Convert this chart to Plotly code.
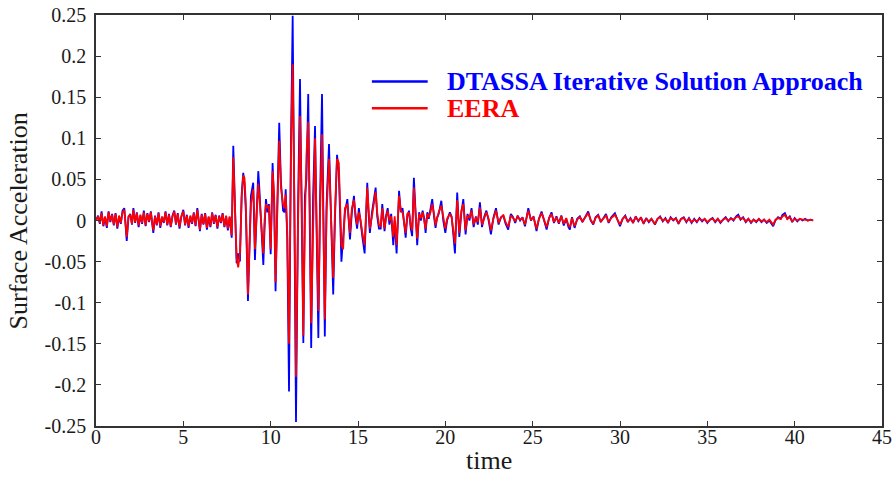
import plotly.graph_objects as go

# Sample times (s) and surface acceleration from the two site-response solutions
time_s = [
    0.00, 0.12, 0.22, 0.32, 0.42, 0.52, 0.62, 0.72, 0.82, 0.92,
    1.02, 1.12, 1.22, 1.32, 1.42, 1.52, 1.62, 1.70, 1.76, 1.86,
    1.96, 2.06, 2.14, 2.24, 2.34, 2.44, 2.54, 2.64, 2.74, 2.84,
    2.94, 3.04, 3.14, 3.22, 3.28, 3.38, 3.48, 3.58, 3.68, 3.78,
    3.88, 3.98, 4.08, 4.18, 4.28, 4.38, 4.48, 4.58, 4.68, 4.78,
    4.88, 5.00, 5.10, 5.20, 5.30, 5.40, 5.50, 5.60, 5.70, 5.80,
    5.95, 6.05, 6.15, 6.25, 6.35, 6.45, 6.55, 6.65, 6.75, 6.85,
    6.95, 7.05, 7.15, 7.25, 7.35, 7.45, 7.55, 7.65, 7.77,
    7.86, 7.95, 8.05, 8.14, 8.24, 8.34, 8.43, 8.50, 8.58, 8.70,
    8.78, 8.87, 9.00, 9.06, 9.10, 9.20, 9.29, 9.35, 9.45, 9.58,
    9.65, 9.73, 9.82, 9.90, 10.00, 10.11, 10.20, 10.28, 10.38, 10.49,
    10.59, 10.66, 10.71, 10.80, 10.86, 10.95, 11.05, 11.16, 11.26, 11.36,
    11.45, 11.57, 11.68, 11.78, 11.87, 11.96, 12.05, 12.15, 12.24, 12.32,
    12.43, 12.54, 12.62, 12.73, 12.83, 12.94, 13.10, 13.20, 13.34, 13.45,
    13.58, 13.68, 13.80, 13.90, 13.97, 14.05, 14.15, 14.25, 14.39, 14.47,
    14.54, 14.65, 14.77, 14.85, 14.95, 15.05, 15.15, 15.25, 15.38, 15.53,
    15.60, 15.68, 15.80, 15.91, 16.01, 16.10, 16.20, 16.30, 16.39, 16.52,
    16.60, 16.70, 16.80, 16.90, 17.02, 17.10, 17.21, 17.35, 17.45, 17.55,
    17.63, 17.73, 17.82, 17.92, 18.02, 18.10, 18.20, 18.30, 18.39, 18.50,
    18.60, 18.70, 18.80, 18.87, 18.97, 19.05, 19.15, 19.25, 19.35, 19.44,
    19.52, 19.62, 19.77, 19.88, 20.00, 20.10, 20.26, 20.36, 20.45, 20.55,
    20.68, 20.80, 20.92, 21.03, 21.16, 21.27, 21.38, 21.50, 21.62, 21.75,
    21.86, 21.98, 22.10, 22.22, 22.35, 22.48, 22.61, 22.75, 22.90, 23.05,
    23.18, 23.32, 23.45, 23.60, 23.75, 23.88, 24.00, 24.14, 24.28, 24.42,
    24.56, 24.75, 24.90, 25.05, 25.22, 25.36, 25.51, 25.65, 25.80, 25.94,
    26.08, 26.22, 26.36, 26.50, 26.64, 26.78, 26.92, 27.05, 27.13, 27.25,
    27.40, 27.55, 27.70, 27.85, 28.00, 28.18, 28.32, 28.47, 28.60, 28.75,
    28.90, 29.05, 29.20, 29.35, 29.50, 29.71, 29.85, 30.00, 30.15, 30.30,
    30.45, 30.60, 30.75, 30.90, 31.05, 31.20, 31.35, 31.50, 31.65, 31.80,
    32.00, 32.15, 32.30, 32.45, 32.60, 32.75, 32.90, 33.05, 33.20, 33.35,
    33.50, 33.65, 33.80, 33.95, 34.10, 34.25, 34.40, 34.55, 34.70, 34.85,
    35.00, 35.15, 35.30, 35.45, 35.60, 35.75, 35.90, 36.05, 36.20, 36.35,
    36.50, 36.65, 36.77, 36.90, 37.05, 37.20, 37.35, 37.50, 37.65, 37.80,
    37.95, 38.10, 38.25, 38.40, 38.55, 38.77, 38.90, 39.05, 39.20, 39.30,
    39.44, 39.58, 39.72, 39.86, 40.00, 40.15, 40.30, 40.45, 40.60, 40.75, 40.90, 41.06,
]

dtassa = [
    0.000, 0.006, -0.004, 0.011, -0.007, 0.004, -0.009, 0.011, -0.002, 0.008,
    -0.006, 0.009, -0.010, 0.005, -0.004, 0.012, 0.015, -0.006, -0.025, 0.004,
    0.008, -0.005, 0.015, -0.003, 0.010, -0.008, 0.006, -0.004, 0.012, -0.007,
    0.009, -0.002, 0.011, -0.004, -0.015, 0.006, -0.006, 0.010, -0.009, 0.004,
    -0.003, 0.011, -0.006, 0.008, -0.008, 0.006, 0.012, -0.005, 0.009, -0.010,
    0.004, 0.013, -0.006, 0.007, -0.009, 0.005, -0.004, 0.010, -0.007, 0.015,
    -0.013, 0.008, -0.005, 0.009, -0.011, 0.004, -0.008, 0.010, -0.004, 0.007,
    -0.010, 0.006, -0.003, 0.009, -0.008, 0.005, -0.012, 0.004, -0.021,
    0.091, 0.030, -0.052, -0.040, -0.050, 0.032, 0.058, 0.045, 0.010, -0.098,
    -0.030, 0.030, 0.046, 0.005, -0.048, 0.010, 0.060, 0.040, -0.010, -0.054,
    -0.010, 0.026, 0.010, 0.020, -0.041, 0.070, 0.020, -0.086, 0.020, 0.119,
    0.046, 0.020, 0.012, 0.010, 0.038, -0.023, -0.208, 0.091, 0.249, 0.000,
    -0.245, 0.020, 0.172, 0.000, -0.149, 0.030, 0.050, 0.154, 0.000, -0.155,
    0.030, 0.115, 0.000, -0.143, 0.030, 0.154, -0.141, 0.020, 0.093, 0.000,
    -0.090, 0.000, 0.080, 0.060, 0.000, -0.050, -0.020, 0.010, 0.026, -0.005,
    -0.023, 0.010, 0.030, 0.005, -0.010, 0.015, -0.005, -0.020, -0.040, 0.046,
    0.010, -0.015, 0.010, 0.026, 0.040, 0.005, -0.010, -0.010, 0.020, -0.013,
    0.005, 0.015, -0.005, 0.008, -0.030, 0.000, -0.040, 0.036, 0.010, 0.015,
    -0.005, -0.021, 0.005, 0.012, -0.010, -0.019, 0.052, 0.010, -0.030, 0.010,
    0.000, 0.012, 0.002, -0.015, 0.010, 0.002, 0.012, 0.026, 0.005, -0.009,
    0.003, 0.008, 0.024, 0.000, -0.015, 0.000, 0.010, 0.005, -0.015, -0.040,
    0.034, -0.020, 0.010, 0.026, -0.017, 0.008, 0.000, 0.015, -0.008, 0.005,
    -0.005, 0.022, -0.008, 0.004, 0.012, 0.000, -0.017, 0.003, 0.015, -0.005,
    0.004, 0.006, -0.004, -0.011, 0.008, 0.004, -0.003, 0.006, 0.000, 0.004,
    -0.007, 0.015, 0.000, 0.005, -0.013, 0.002, 0.011, 0.000, -0.011, 0.003,
    0.010, -0.003, 0.005, -0.004, 0.006, -0.006, 0.002, -0.008, -0.011, 0.004,
    -0.009, 0.002, 0.005, -0.002, 0.004, 0.011, 0.000, -0.005, 0.004, 0.007,
    -0.002, 0.003, 0.008, -0.003, 0.004, 0.009, 0.000, -0.007, 0.002, 0.006,
    -0.002, 0.003, -0.003, 0.005, -0.001, 0.004, -0.004, 0.003, -0.002, 0.002,
    -0.005, 0.002, 0.005, -0.001, 0.003, -0.003, 0.004, 0.000, 0.003, -0.004,
    0.002, 0.004, -0.002, 0.003, -0.003, 0.002, -0.002, 0.003, -0.001, 0.002,
    -0.003, 0.001, 0.003, -0.002, 0.002, -0.003, 0.001, 0.004, -0.001, 0.003,
    0.000, 0.005, 0.007, 0.001, 0.004, -0.002, 0.002, -0.003, 0.001, -0.002,
    0.002, -0.002, 0.001, -0.003, 0.000, -0.007, 0.000, 0.004, 0.002, 0.007,
    0.009, 0.002, 0.005, -0.002, 0.003, -0.001, 0.002, 0.000, 0.002, 0.000, 0.001, 0.000,
]

eera = [
    0.000, 0.005, -0.003, 0.009, -0.006, 0.005, -0.007, 0.010, -0.001, 0.007,
    -0.005, 0.008, -0.008, 0.006, -0.003, 0.010, 0.013, -0.005, -0.020, 0.005,
    0.007, -0.004, 0.013, -0.002, 0.009, -0.006, 0.007, -0.003, 0.010, -0.006,
    0.008, -0.001, 0.010, -0.003, -0.012, 0.005, -0.005, 0.009, -0.007, 0.005,
    -0.002, 0.010, -0.005, 0.007, -0.007, 0.005, 0.011, -0.004, 0.008, -0.008,
    0.005, 0.011, -0.005, 0.006, -0.007, 0.006, -0.003, 0.009, -0.006, 0.013,
    -0.011, 0.007, -0.004, 0.008, -0.009, 0.005, -0.007, 0.009, -0.003, 0.006,
    -0.008, 0.005, -0.002, 0.008, -0.007, 0.006, -0.010, 0.005, -0.018,
    0.077, 0.025, -0.045, -0.057, -0.040, 0.028, 0.055, 0.052, 0.020, -0.090,
    -0.025, 0.020, 0.038, 0.010, -0.035, 0.015, 0.045, 0.030, -0.005, -0.040,
    0.000, 0.020, 0.015, 0.018, -0.035, 0.060, 0.030, -0.075, 0.010, 0.097,
    0.040, 0.025, 0.020, 0.015, 0.032, -0.015, -0.150, 0.080, 0.190, 0.020,
    -0.190, 0.000, 0.127, 0.020, -0.140, 0.000, 0.080, 0.120, 0.020, -0.125,
    0.010, 0.100, 0.010, -0.110, 0.010, 0.105, -0.120, 0.010, 0.075, 0.010,
    -0.070, 0.010, 0.075, 0.070, 0.010, -0.030, -0.035, 0.015, 0.020, 0.000,
    -0.015, 0.015, 0.025, 0.010, -0.005, 0.010, 0.000, -0.015, -0.030, 0.040,
    0.015, -0.010, 0.005, 0.020, 0.035, 0.010, -0.005, -0.008, 0.015, -0.010,
    0.003, 0.012, 0.000, 0.005, -0.020, 0.005, -0.030, 0.030, 0.012, 0.010,
    -0.003, -0.015, 0.008, 0.010, -0.006, -0.012, 0.040, 0.005, -0.022, 0.008,
    0.003, 0.010, 0.000, -0.010, 0.008, 0.004, 0.010, 0.020, 0.008, -0.006,
    0.002, 0.010, 0.018, 0.004, -0.010, 0.002, 0.008, 0.004, -0.010, -0.028,
    0.025, -0.015, 0.012, 0.020, -0.012, 0.006, 0.003, 0.012, -0.005, 0.004,
    -0.002, 0.016, -0.005, 0.002, 0.010, 0.002, -0.012, 0.002, 0.012, -0.003,
    0.003, 0.007, -0.002, -0.008, 0.006, 0.003, -0.001, 0.005, 0.001, 0.003,
    -0.005, 0.012, 0.001, 0.004, -0.010, 0.002, 0.009, 0.001, -0.008, 0.003,
    0.008, -0.002, 0.004, -0.003, 0.005, -0.004, 0.003, -0.006, -0.008, 0.003,
    -0.007, 0.001, 0.004, -0.001, 0.003, 0.009, 0.001, -0.004, 0.003, 0.006,
    -0.001, 0.002, 0.006, -0.002, 0.003, 0.007, 0.001, -0.005, 0.002, 0.005,
    -0.001, 0.002, -0.002, 0.004, 0.000, 0.003, -0.003, 0.002, -0.001, 0.002,
    -0.004, 0.002, 0.004, 0.000, 0.002, -0.002, 0.003, 0.001, 0.002, -0.003,
    0.002, 0.003, -0.001, 0.002, -0.002, 0.001, -0.001, 0.002, 0.000, 0.002,
    -0.002, 0.001, 0.002, -0.001, 0.002, -0.002, 0.001, 0.003, 0.000, 0.002,
    0.001, 0.004, 0.005, 0.002, 0.003, -0.001, 0.002, -0.002, 0.001, -0.001,
    0.002, -0.001, 0.001, -0.002, 0.001, -0.005, 0.001, 0.003, 0.002, 0.005,
    0.007, 0.002, 0.004, -0.001, 0.002, 0.000, 0.002, 0.001, 0.001, 0.000, 0.001, 0.000,
]

series_names = ["DTASSA Iterative Solution Approach", "EERA"]
series_colors = ["#0000ff", "#ff0000"]

x_ticks = [0, 5, 10, 15, 20, 25, 30, 35, 40, 45]
y_ticks = [0.25, 0.2, 0.15, 0.1, 0.05, 0, -0.05, -0.1, -0.15, -0.2, -0.25]
y_tick_labels = ["0.25", "0.2", "0.15", "0.1", "0.05", "0",
                 "-0.05", "-0.1", "-0.15", "-0.2", "-0.25"]

assert len(time_s) == len(dtassa) == len(eera)

SERIF = "Liberation Serif"
AXIS_COLOR = "#333333"
TEXT_COLOR = "#1a1a1a"

fig = go.Figure()
for vals, name, color in zip([dtassa, eera], series_names, series_colors):
    fig.add_trace(go.Scatter(
        x=time_s, y=vals, mode="lines", name=name,
        line=dict(color=color, width=1.8),
    ))

axis_common = dict(
    showgrid=False, zeroline=False, automargin=False,
    showline=True, linecolor=AXIS_COLOR, linewidth=1.5, mirror="allticks",
    ticks="inside", ticklen=5, tickwidth=1.2, tickcolor=AXIS_COLOR,
    tickfont=dict(family=SERIF, size=20, color=TEXT_COLOR),
)

fig.update_layout(
    width=896, height=481,
    margin=dict(l=96, r=14, t=15, b=55),
    paper_bgcolor="white", plot_bgcolor="white",
    font=dict(family=SERIF, color=TEXT_COLOR),
    showlegend=False,
    xaxis=dict(range=[0, 45], tickvals=x_ticks, ticklabelstandoff=-8, **axis_common),
    yaxis=dict(range=[-0.25, 0.25], tickvals=y_ticks, ticktext=y_tick_labels,
               ticklabelstandoff=4, **axis_common),
)

# Axis titles
fig.add_annotation(text="Surface Acceleration", xref="paper", yref="paper",
                   x=-0.098, y=0.5, textangle=-90, showarrow=False,
                   xanchor="center", yanchor="middle",
                   font=dict(family=SERIF, size=26, color=TEXT_COLOR))
fig.add_annotation(text="time", xref="paper", yref="paper",
                   x=0.5, y=-0.083, showarrow=False,
                   xanchor="center", yanchor="middle",
                   font=dict(family=SERIF, size=26, color=TEXT_COLOR))

# Legend: line samples with bold coloured labels
legend_y = [0.838, 0.773]
for name, color, ly in zip(series_names, series_colors, legend_y):
    fig.add_shape(type="line", xref="paper", yref="paper",
                  x0=0.351, x1=0.422, y0=ly, y1=ly,
                  line=dict(color=color, width=2.5))
    fig.add_annotation(text="<b>" + name + "</b>", xref="paper", yref="paper",
                       x=0.444, y=ly, showarrow=False,
                       xanchor="left", yanchor="middle",
                       font=dict(family=SERIF, size=26, color=color))

fig.write_html("out.html")
